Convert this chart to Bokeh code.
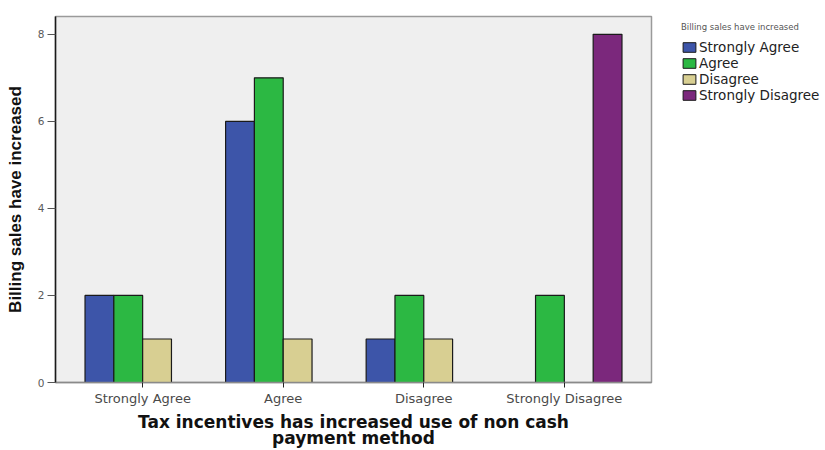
from bokeh.plotting import figure
from bokeh.layouts import row
from bokeh.models import Range1d, FixedTicker, Legend, LegendItem, ColumnDataSource
from bokeh.embed import file_html
from bokeh.resources import INLINE

# Response categories on the x axis
categories = ["Strongly Agree", "Agree", "Disagree", "Strongly Disagree"]

# Counts per legend group ("Billing sales have increased"), one value per x category
strongly_agree = [2, 6, 1, 0]
agree = [2, 7, 2, 2]
disagree = [1, 1, 1, 0]
strongly_disagree = [0, 0, 0, 8]

series_names = ["Strongly Agree", "Agree", "Disagree", "Strongly Disagree"]
series_values = [strongly_agree, agree, disagree, strongly_disagree]
series_colors = ["#3d55a9", "#2cb843", "#d8cf92", "#7b287c"]

y_ticks = [0, 2, 4, 6, 8]

p = figure(width=660, height=450,
           x_range=Range1d(-0.62, 3.62), y_range=Range1d(0, 8.41),
           output_backend="svg", toolbar_location=None,
           min_border_left=55, min_border_right=9,
           min_border_top=16, min_border_bottom=65)

p.background_fill_color = "#efefef"
p.border_fill_color = "white"
p.outline_line_color = "#9a9a9a"
p.outline_line_width = 1.5
p.xgrid.visible = False
p.ygrid.visible = False

bar_w = 0.205
n_series = len(series_names)
for j, (vals, col) in enumerate(zip(series_values, series_colors)):
    offset = (j - (n_series - 1) / 2) * bar_w
    xs = [i + offset for i, v in enumerate(vals) if v > 0]
    tops = [v for v in vals if v > 0]
    src = ColumnDataSource(dict(x=xs, top=tops))
    p.vbar(x="x", top="top", bottom=0, width=bar_w, source=src,
           fill_color=col, line_color="#1a1a1a", line_width=1.2)

# x axis
p.xaxis.ticker = FixedTicker(ticks=list(range(len(categories))))
p.xaxis.major_label_overrides = {i: c for i, c in enumerate(categories)}
p.xaxis.major_label_text_font = "DejaVu Sans"
p.xaxis.major_label_text_font_size = "13px"
p.xaxis.major_label_text_color = "#4a4a4a"
p.xaxis.major_label_standoff = 3
p.xaxis.major_tick_out = 5
p.xaxis.major_tick_in = 0
p.xaxis.major_tick_line_color = "#222222"
p.xaxis.minor_tick_line_color = None
p.xaxis.axis_line_color = "#8a8a8a"
p.xaxis.axis_line_width = 1.5
p.xaxis.axis_label = "Tax incentives has increased use of non cash\npayment method"
p.xaxis.axis_label_text_font = "DejaVu Sans"
p.xaxis.axis_label_text_font_style = "bold"
p.xaxis.axis_label_text_font_size = "17px"
p.xaxis.axis_label_text_color = "#111111"
p.xaxis.axis_label_text_line_height = 0.8
p.xaxis.axis_label_standoff = 3

# y axis
p.yaxis.ticker = FixedTicker(ticks=y_ticks)
p.yaxis.major_label_text_font = "DejaVu Sans"
p.yaxis.major_label_text_font_size = "10.5px"
p.yaxis.major_label_text_color = "#5a5a5a"
p.yaxis.major_label_standoff = 3
p.yaxis.major_tick_out = 8
p.yaxis.major_tick_in = 0
p.yaxis.major_tick_line_color = "#555555"
p.yaxis.minor_tick_line_color = None
p.yaxis.axis_line_color = "#1a1a1a"
p.yaxis.axis_line_width = 1.5
p.yaxis.axis_label = "Billing sales have increased"
p.yaxis.axis_label_text_font = "Liberation Sans"
p.yaxis.axis_label_text_font_style = "bold"
p.yaxis.axis_label_text_font_size = "17px"
p.yaxis.axis_label_text_color = "#111111"
p.yaxis.axis_label_standoff = 10

# legend panel to the right of the chart
leg_fig = figure(width=165, height=450, x_range=Range1d(0, 1), y_range=Range1d(0, 1),
                 output_backend="svg", toolbar_location=None,
                 min_border_left=15, min_border_top=0, min_border_right=0, min_border_bottom=0,
                 x_axis_location=None, y_axis_location=None)
leg_fig.outline_line_color = None
leg_fig.background_fill_color = "white"
leg_fig.border_fill_color = "white"
leg_fig.xgrid.visible = False
leg_fig.ygrid.visible = False

# swatch renderers lie far outside the visible ranges; only their legend entries show
items = []
for name, col in zip(series_names, series_colors):
    r = leg_fig.vbar(x=[50], top=[-50], bottom=-51, width=0.1, fill_color=col,
                     line_color="#1a1a1a", line_width=1)
    items.append(LegendItem(label=name, renderers=[r]))

legend = Legend(items=items, location="top_left")
legend.title = "Billing sales have increased"
legend.title_text_font = "DejaVu Sans"
legend.title_text_font_size = "8.5px"
legend.title_text_color = "#555555"
legend.title_text_font_style = "normal"
legend.title_standoff = 7
legend.label_text_font = "DejaVu Sans"
legend.label_text_font_size = "13.5px"
legend.label_text_color = "#222222"
legend.glyph_width = 16
legend.glyph_height = 12
legend.label_height = 12
legend.label_standoff = 2
legend.spacing = -1
legend.padding = 3
legend.margin = 6
legend.border_line_color = None
legend.background_fill_alpha = 0
leg_fig.add_layout(legend)

open("out.html", "w").write(file_html(row(p, leg_fig), INLINE))
